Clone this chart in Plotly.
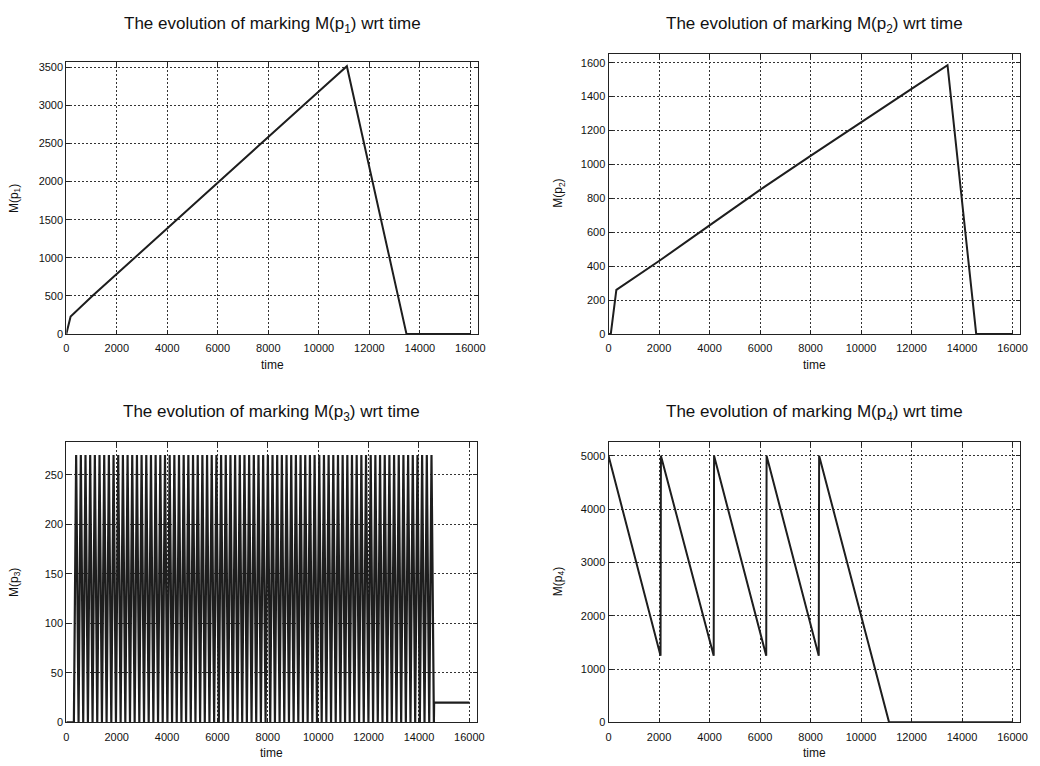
import plotly.graph_objects as go

W, H = 1040, 766

# ---------------- data ----------------
p1_t = [0, 170, 1040, 2700, 4370, 6040, 7700, 9380, 11110, 13470, 16000]
p1_m = [0, 230, 500, 1000, 1500, 2000, 2500, 3000, 3515, 0, 0]

p2_t = [0, 90, 310, 2000, 4000, 6000, 8000, 10000, 12000, 13425, 14560, 16000]
p2_m = [0, 0, 260, 430, 640, 850, 1050, 1250, 1445, 1585, 0, 0]

p3_trough_t = [300, 486, 671, 857, 1042, 1228, 1414, 1599, 1785, 1970, 2156, 2342, 2527,
               2713, 2898, 3084, 3270, 3455, 3641, 3826, 4012, 4198, 4383, 4569, 4754,
               4940, 5126, 5311, 5497, 5682, 5868, 6054, 6239, 6425, 6610, 6796, 6982,
               7167, 7353, 7538, 7724, 7910, 8095, 8281, 8466, 8652, 8838, 9023, 9209,
               9394, 9580, 9766, 9951, 10137, 10322, 10508, 10694, 10879, 11065, 11250,
               11436, 11622, 11807, 11993, 12178, 12364, 12550, 12735, 12921, 13106,
               13292, 13478, 13663, 13849, 14034, 14220, 14406, 14591]
p3_peak_t = [390, 576, 761, 947, 1132, 1318, 1504, 1689, 1875, 2060, 2246, 2432, 2617,
             2803, 2988, 3174, 3360, 3545, 3731, 3916, 4102, 4288, 4473, 4659, 4844,
             5030, 5216, 5401, 5587, 5772, 5958, 6144, 6329, 6515, 6700, 6886, 7072,
             7257, 7443, 7628, 7814, 8000, 8185, 8371, 8556, 8742, 8928, 9113, 9299,
             9484, 9670, 9856, 10041, 10227, 10412, 10598, 10784, 10969, 11155, 11340,
             11526, 11712, 11897, 12083, 12268, 12454, 12640, 12825, 13011, 13196,
             13382, 13568, 13753, 13939, 14124, 14310, 14496]
p3_peak_value = 270
p3_trough_value = 0
p3_tail_t = [14600, 16000]
p3_tail_m = [20, 20]

p4_t = [0, 2060, 2075, 4165, 4180, 6245, 6260, 8325, 8340, 11110, 16000]
p4_m = [5000, 1250, 5000, 1250, 5000, 1250, 5000, 1250, 5000, 0, 0]

x_ticks = [0, 2000, 4000, 6000, 8000, 10000, 12000, 14000, 16000]
y1_ticks = [0, 500, 1000, 1500, 2000, 2500, 3000, 3500]
y2_ticks = [0, 200, 400, 600, 800, 1000, 1200, 1400, 1600]
y3_ticks = [0, 50, 100, 150, 200, 250]
y4_ticks = [0, 1000, 2000, 3000, 4000, 5000]

titles = ["The evolution of marking M(p<sub>1</sub>) wrt time",
          "The evolution of marking M(p<sub>2</sub>) wrt time",
          "The evolution of marking M(p<sub>3</sub>) wrt time",
          "The evolution of marking M(p<sub>4</sub>) wrt time"]
ylabels = ["M(p<sub>1</sub>)", "M(p<sub>2</sub>)", "M(p<sub>3</sub>)", "M(p<sub>4</sub>)"]
xlabel = "time"

# build p3 polyline from the read peak / trough times
p3_t = [0]
p3_m = [0]
p3_t.append(p3_trough_t[0]); p3_m.append(p3_trough_value)
for pk, tr in zip(p3_peak_t, p3_trough_t[1:]):
    p3_t += [pk, tr]
    p3_m += [p3_peak_value, p3_trough_value]
p3_t += p3_tail_t
p3_m += p3_tail_m

# ---------------- layout (pixel boxes) ----------------
boxes = [  # left, right, top, bottom in px
    (64, 480, 62, 336),
    (612, 1028, 53, 336),
    (64, 479, 445, 728),
    (612, 1028, 445, 728),
]
yranges = [[0, 3565], [0, 1654], [0, 283.3], [0, 5260]]
yticks = [y1_ticks, y2_ticks, y3_ticks, y4_ticks]
series = [(p1_t, p1_m), (p2_t, p2_m), (p3_t, p3_m), (p4_t, p4_m)]
widths = [2, 2, 2.2, 2]

LINE = "#1e1e1e"
TICKFONT = dict(family="Liberation Sans, Arial, sans-serif", size=11, color="#111")
LABELFONT = dict(family="Liberation Sans, Arial, sans-serif", size=12, color="#111")
TITLEFONT = dict(family="Liberation Sans, Arial, sans-serif", size=17, color="#111")

fig = go.Figure()
annotations = []
for i, ((l, r, t, b), (xs, ys)) in enumerate(zip(boxes, series)):
    n = "" if i == 0 else str(i + 1)
    fig.add_trace(go.Scatter(x=xs, y=ys, mode="lines",
                             line=dict(color=LINE, width=widths[i]),
                             xaxis="x" + n, yaxis="y" + n, showlegend=False,
                             hoverinfo="skip"))
    common = dict(showline=True, linecolor="#222", linewidth=1, mirror="ticks",
                  ticks="inside", ticklen=4, tickcolor="#222",
                  showgrid=True, gridcolor="#333", gridwidth=1, griddash="2px,2px",
                  zeroline=False, tickfont=TICKFONT, tickformat="d")
    fig.layout["xaxis" + n] = dict(domain=[l / W, r / W], range=[0, 16300],
                                   tickvals=x_ticks, anchor="y" + n,
                                   ticklabelstandoff=4, **common)
    fig.layout["yaxis" + n] = dict(domain=[1 - b / H, 1 - t / H], range=yranges[i],
                                   tickvals=yticks[i], anchor="x" + n, **common)
    cx = (l + r) / 2 / W
    title_y = 24 if i < 2 else 416
    annotations.append(dict(text=titles[i], x=cx, y=1 - title_y / H, xref="paper",
                            yref="paper", xanchor="center", yanchor="middle",
                            showarrow=False, font=TITLEFONT))
    annotations.append(dict(text=xlabel, x=cx, y=1 - (b + 31) / H, xref="paper",
                            yref="paper", xanchor="center", yanchor="middle",
                            showarrow=False, font=LABELFONT))
    ylab_x = 12 if l < 100 else 562
    annotations.append(dict(text=ylabels[i], x=ylab_x / W, y=1 - (t + b) / 2 / H,
                            xref="paper", yref="paper", xanchor="center",
                            yanchor="middle", textangle=-90, showarrow=False,
                            font=LABELFONT))

fig.update_layout(width=W, height=H, margin=dict(l=0, r=0, t=0, b=0),
                  paper_bgcolor="white", plot_bgcolor="white",
                  annotations=annotations)

fig.write_html("out.html", config={"displayModeBar": False},
               post_script="document.body.style.margin='0';"
                           "document.body.style.overflow='hidden';")
